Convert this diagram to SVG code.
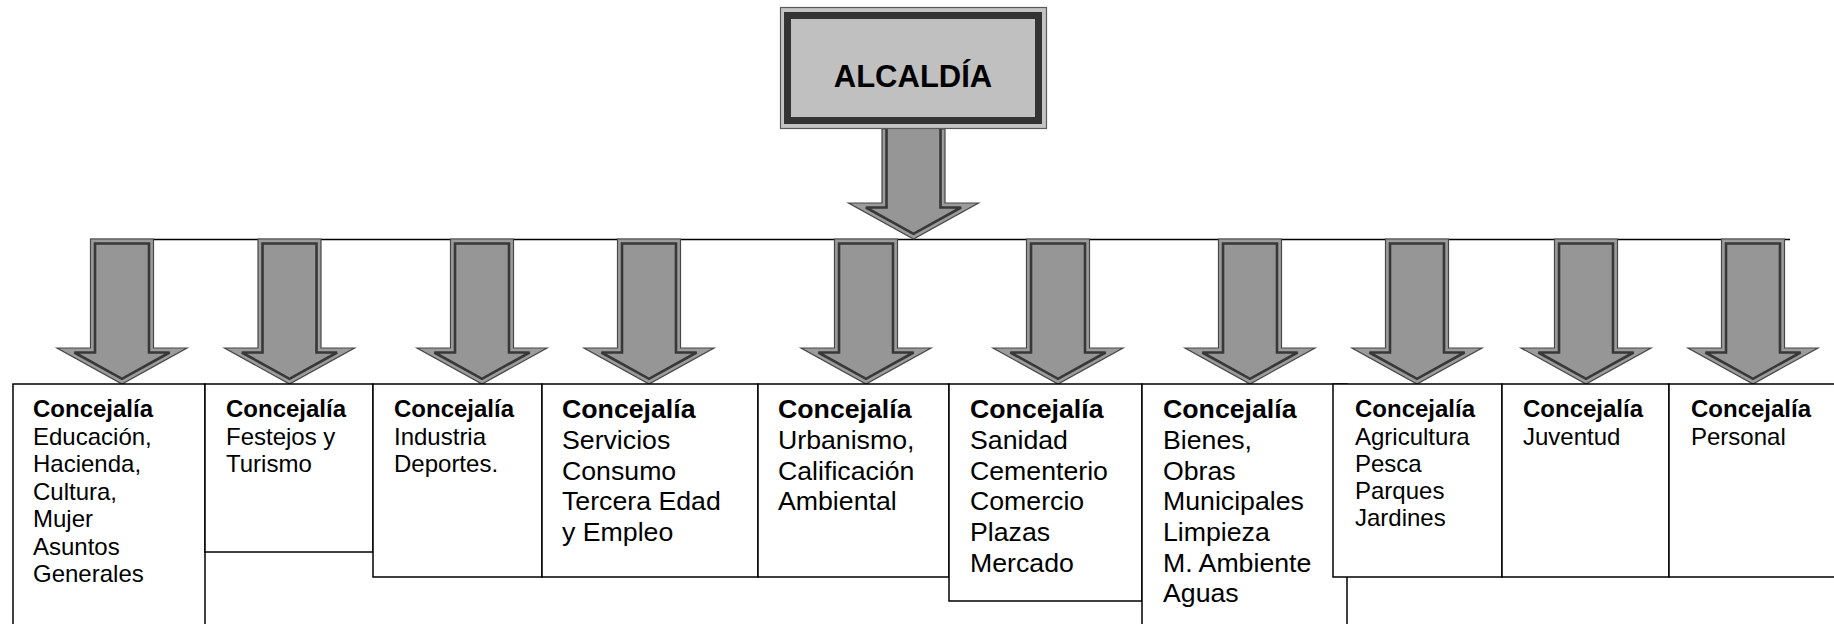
<svg xmlns="http://www.w3.org/2000/svg" xmlns:xlink="http://www.w3.org/1999/xlink" width="1834" height="624" viewBox="0 0 1834 624">
<style>
.box{fill:#fff;stroke:#000;stroke-width:1.5}
.arw-o{fill:#9c9c9c;stroke:#474747;stroke-width:1.2;stroke-linejoin:miter}
.arw-i{fill:#969696;stroke:#383838;stroke-width:2.6;stroke-linejoin:miter}
.line{stroke:#000;stroke-width:1.5;fill:none}
text{font-family:"Liberation Sans",Arial,sans-serif;fill:#000}
.s{font-size:24px}
.l{font-size:26.7px}
.b{font-weight:bold}
</style>
<defs>
<g id="arrowSmall">
<path class="arw-o" d="M-31.5,239 H31.5 V348 H65 L0,384 L-65,348 H-31.5 Z"/>
<path class="arw-i" d="M-27,243.5 H27 V352.5 H47.6 L0,378.8 L-47.6,352.5 H-27 Z"/>
</g>
</defs>
<g id="connectors">
<line class="line" x1="90" y1="239.5" x2="1790" y2="239.5"/>
<g id="arrow-main">
<path class="arw-o" d="M882,129 H945 V203 H978.5 L913.5,239 L848.5,203 H882 Z"/>
<path class="arw-i" d="M886.5,125 H940.5 V207.5 H961.1 L913.5,233.8 L865.9,207.5 H886.5 Z"/>
</g>
<use xlink:href="#arrowSmall" href="#arrowSmall" transform="translate(122,0)"/>
<use xlink:href="#arrowSmall" href="#arrowSmall" transform="translate(289.5,0)"/>
<use xlink:href="#arrowSmall" href="#arrowSmall" transform="translate(482,0)"/>
<use xlink:href="#arrowSmall" href="#arrowSmall" transform="translate(649,0)"/>
<use xlink:href="#arrowSmall" href="#arrowSmall" transform="translate(866,0)"/>
<use xlink:href="#arrowSmall" href="#arrowSmall" transform="translate(1058,0)"/>
<use xlink:href="#arrowSmall" href="#arrowSmall" transform="translate(1250,0)"/>
<use xlink:href="#arrowSmall" href="#arrowSmall" transform="translate(1417,0)"/>
<use xlink:href="#arrowSmall" href="#arrowSmall" transform="translate(1586,0)"/>
<use xlink:href="#arrowSmall" href="#arrowSmall" transform="translate(1753,0)"/>
</g>
<g id="alcaldia">
<rect x="780.5" y="7.5" width="266" height="121" fill="#c4c4c4" stroke="#5a5a5a" stroke-width="1.2"/>
<rect x="787.5" y="15.5" width="251" height="105" fill="#c0c0c0" stroke="#333" stroke-width="7"/>
<text x="913" y="87" text-anchor="middle" font-size="31" font-weight="bold">ALCALDÍA</text>
</g>
<g id="c1">
<rect class="box" x="13" y="384" width="192" height="260"/>
<text class="s" x="33"><tspan class="b" y="417">Concejalía</tspan><tspan x="33" y="444.5">Educación,</tspan><tspan x="33" y="472">Hacienda,</tspan><tspan x="33" y="499.5">Cultura,</tspan><tspan x="33" y="527">Mujer</tspan><tspan x="33" y="554.5">Asuntos</tspan><tspan x="33" y="582">Generales</tspan></text>
</g>
<g id="c2">
<rect class="box" x="205" y="384" width="168" height="168"/>
<text class="s" x="226"><tspan class="b" y="417">Concejalía</tspan><tspan x="226" y="444.5">Festejos y</tspan><tspan x="226" y="472">Turismo</tspan></text>
</g>
<g id="c3">
<rect class="box" x="373" y="384" width="169" height="193"/>
<text class="s" x="394"><tspan class="b" y="417">Concejalía</tspan><tspan x="394" y="444.5">Industria</tspan><tspan x="394" y="472">Deportes.</tspan></text>
</g>
<g id="c4">
<rect class="box" x="542" y="384" width="216" height="193"/>
<text class="l" x="562"><tspan class="b" y="418">Concejalía</tspan><tspan x="562" y="449">Servicios</tspan><tspan x="562" y="479.5">Consumo</tspan><tspan x="562" y="510">Tercera Edad</tspan><tspan x="562" y="541">y Empleo</tspan></text>
</g>
<g id="c5">
<rect class="box" x="758" y="384" width="191" height="193"/>
<text class="l" x="778"><tspan class="b" y="418">Concejalía</tspan><tspan x="778" y="449">Urbanismo,</tspan><tspan x="778" y="479.5">Calificación</tspan><tspan x="778" y="510">Ambiental</tspan></text>
</g>
<g id="c6">
<rect class="box" x="949" y="384" width="193" height="217"/>
<text class="l" x="970"><tspan class="b" y="418">Concejalía</tspan><tspan x="970" y="449">Sanidad</tspan><tspan x="970" y="479.5">Cementerio</tspan><tspan x="970" y="510">Comercio</tspan><tspan x="970" y="541">Plazas</tspan><tspan x="970" y="571.5">Mercado</tspan></text>
</g>
<g id="c7">
<rect class="box" x="1142" y="384" width="205" height="260"/>
<text class="l" x="1163"><tspan class="b" y="418">Concejalía</tspan><tspan x="1163" y="449">Bienes,</tspan><tspan x="1163" y="479.5">Obras</tspan><tspan x="1163" y="510">Municipales</tspan><tspan x="1163" y="541">Limpieza</tspan><tspan x="1163" y="571.5">M. Ambiente</tspan><tspan x="1163" y="602">Aguas</tspan></text>
</g>
<g id="c8">
<rect class="box" x="1333" y="384" width="169" height="193"/>
<text class="s" x="1355"><tspan class="b" y="417">Concejalía</tspan><tspan x="1355" y="444.5">Agricultura</tspan><tspan x="1355" y="471.5">Pesca</tspan><tspan x="1355" y="498.5">Parques</tspan><tspan x="1355" y="526">Jardines</tspan></text>
</g>
<g id="c9">
<rect class="box" x="1502" y="384" width="167" height="193"/>
<text class="s" x="1523"><tspan class="b" y="417">Concejalía</tspan><tspan x="1523" y="444.5">Juventud</tspan></text>
</g>
<g id="c10">
<rect class="box" x="1669" y="384" width="200" height="193"/>
<text class="s" x="1691"><tspan class="b" y="417">Concejalía</tspan><tspan x="1691" y="444.5">Personal</tspan></text>
</g>
</svg>
